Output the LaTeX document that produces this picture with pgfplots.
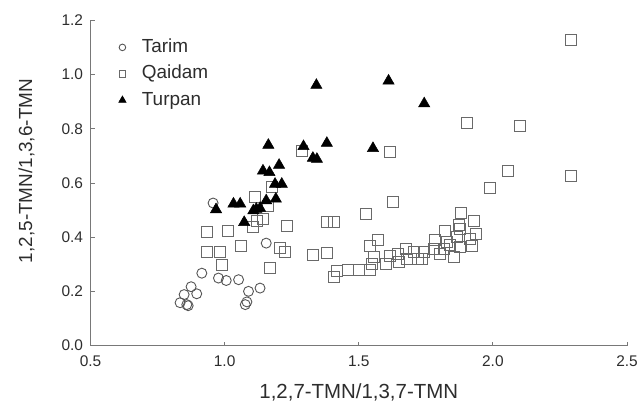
\documentclass[border=0pt]{standalone}
\usepackage{pgfplots}
\pgfplotsset{compat=1.18}
\usepackage{fontspec}
\setmainfont{Liberation Sans}
\definecolor{axgray}{RGB}{120,120,120}
\definecolor{txtgray}{RGB}{45,45,45}
\definecolor{circgray}{RGB}{85,85,85}
\definecolor{sqgray}{RGB}{105,105,105}
\pgfplotsset{smallmark/.style={legend image code/.code={\draw[mark repeat=2,mark phase=2,##1,mark size=#1] plot coordinates {(0cm,0cm) (0.3cm,0cm) (0.6cm,0cm)}; \path (0.9cm,0cm);}}}
\begin{document}
\begin{tikzpicture}[x=1bp,y=1bp]
\useasboundingbox (0,0) rectangle (643,403);
\begin{axis}[
  at={(90.5bp,57.5bp)}, anchor=south west,
  scale only axis, width=536.5bp, height=325bp,
  xmin=0.5, xmax=2.5, ymin=0, ymax=1.2,
  axis x line*=bottom, axis y line*=left,
  axis line style={axgray, line width=0.9bp},
  xtick={0.5,1.0,1.5,2.0,2.5},
  ytick={0,0.2,0.4,0.6,0.8,1.0,1.2},
  tick align=inside, major tick length=4bp,
  tick style={axgray, line width=0.8bp},
  /pgf/number format/fixed, /pgf/number format/fixed zerofill,
  /pgf/number format/precision=1, /pgf/number format/assume math mode=true,
  ticklabel style={font=\fontsize{15.5}{18}\selectfont, text=txtgray},
  xticklabel style={yshift=-7bp},
  yticklabel style={xshift=-4bp},
  xlabel={1,2,7-TMN/1,3,7-TMN},
  ylabel={1,2,5-TMN/1,3,6-TMN},
  label style={text=txtgray},
  xlabel style={font=\fontsize{20.5}{24}\selectfont, at={(axis description cs:0.5,0)}, anchor=base, yshift=-53bp},
  ylabel style={font=\fontsize{19}{22}\selectfont, at={(axis description cs:0,0.5)}, anchor=base, xshift=12bp, yshift=58.5bp},
  clip=false,
  legend cell align=left,
  legend style={draw=none, fill=none, at={(axis description cs:0,1)}, anchor=north west,
    xshift=28bp, yshift=-13.5bp, row sep=0bp, inner sep=0bp,
    font=\fontsize{19}{22}\selectfont, text=txtgray,
    nodes={text height=14bp, text depth=4bp, inner ysep=4.2bp}},
]
\addplot[only marks, mark=o, mark size=5bp, draw=circgray, line width=0.9bp, smallmark=3.3bp] table {
x y
0.834 0.158
0.864 0.147
0.849 0.188
0.859 0.151
0.875 0.217
0.896 0.191
0.915 0.267
0.957 0.526
0.977 0.249
1.006 0.240
1.052 0.243
1.077 0.151
1.083 0.161
1.089 0.200
1.132 0.212
1.155 0.378
};
\addlegendentry{Tarim}
\addplot[only marks, mark=square, mark size=5.5bp, draw=sqgray, line width=0.9bp, smallmark=3.3bp] table {
x y
0.934 0.421
1.014 0.424
0.934 0.345
0.983 0.345
0.990 0.296
1.062 0.369
1.105 0.437
1.120 0.461
1.143 0.467
1.114 0.547
1.160 0.516
1.176 0.584
1.288 0.719
1.234 0.443
1.207 0.360
1.226 0.347
1.170 0.286
1.331 0.335
1.381 0.340
1.381 0.455
1.409 0.455
1.409 0.253
1.419 0.277
1.46 0.28
1.50 0.28
1.527 0.486
1.540 0.369
1.572 0.388
1.54 0.28
1.55 0.30
1.555 0.326
1.60 0.30
1.618 0.332
1.618 0.715
1.628 0.529
1.645 0.339
1.65 0.31
1.677 0.357
1.68 0.32
1.707 0.345
1.72 0.32
1.735 0.320
1.742 0.345
1.779 0.357
1.785 0.388
1.804 0.339
1.816 0.357
1.823 0.424
1.829 0.384
1.839 0.372
1.854 0.326
1.866 0.400
1.872 0.445
1.879 0.431
1.879 0.363
1.881 0.488
1.904 0.820
1.916 0.394
1.922 0.369
1.928 0.461
1.938 0.412
1.988 0.582
2.057 0.643
2.100 0.809
2.292 1.130
2.292 0.625
};
\addlegendentry{Qaidam}
\addplot[only marks, mark=triangle*, mark size=6.5bp, draw=black, fill=black, line width=0.5bp, smallmark=4.3bp] table {
x y
0.968 0.502
1.033 0.523
1.058 0.523
1.073 0.455
1.107 0.498
1.118 0.504
1.132 0.507
1.155 0.535
1.191 0.541
1.143 0.645
1.167 0.639
1.163 0.740
1.203 0.666
1.188 0.596
1.213 0.596
1.294 0.735
1.329 0.692
1.344 0.688
1.342 0.961
1.381 0.747
1.553 0.728
1.611 0.977
1.744 0.893
};
\addlegendentry{Turpan}
\end{axis}
\end{tikzpicture}
\end{document}
